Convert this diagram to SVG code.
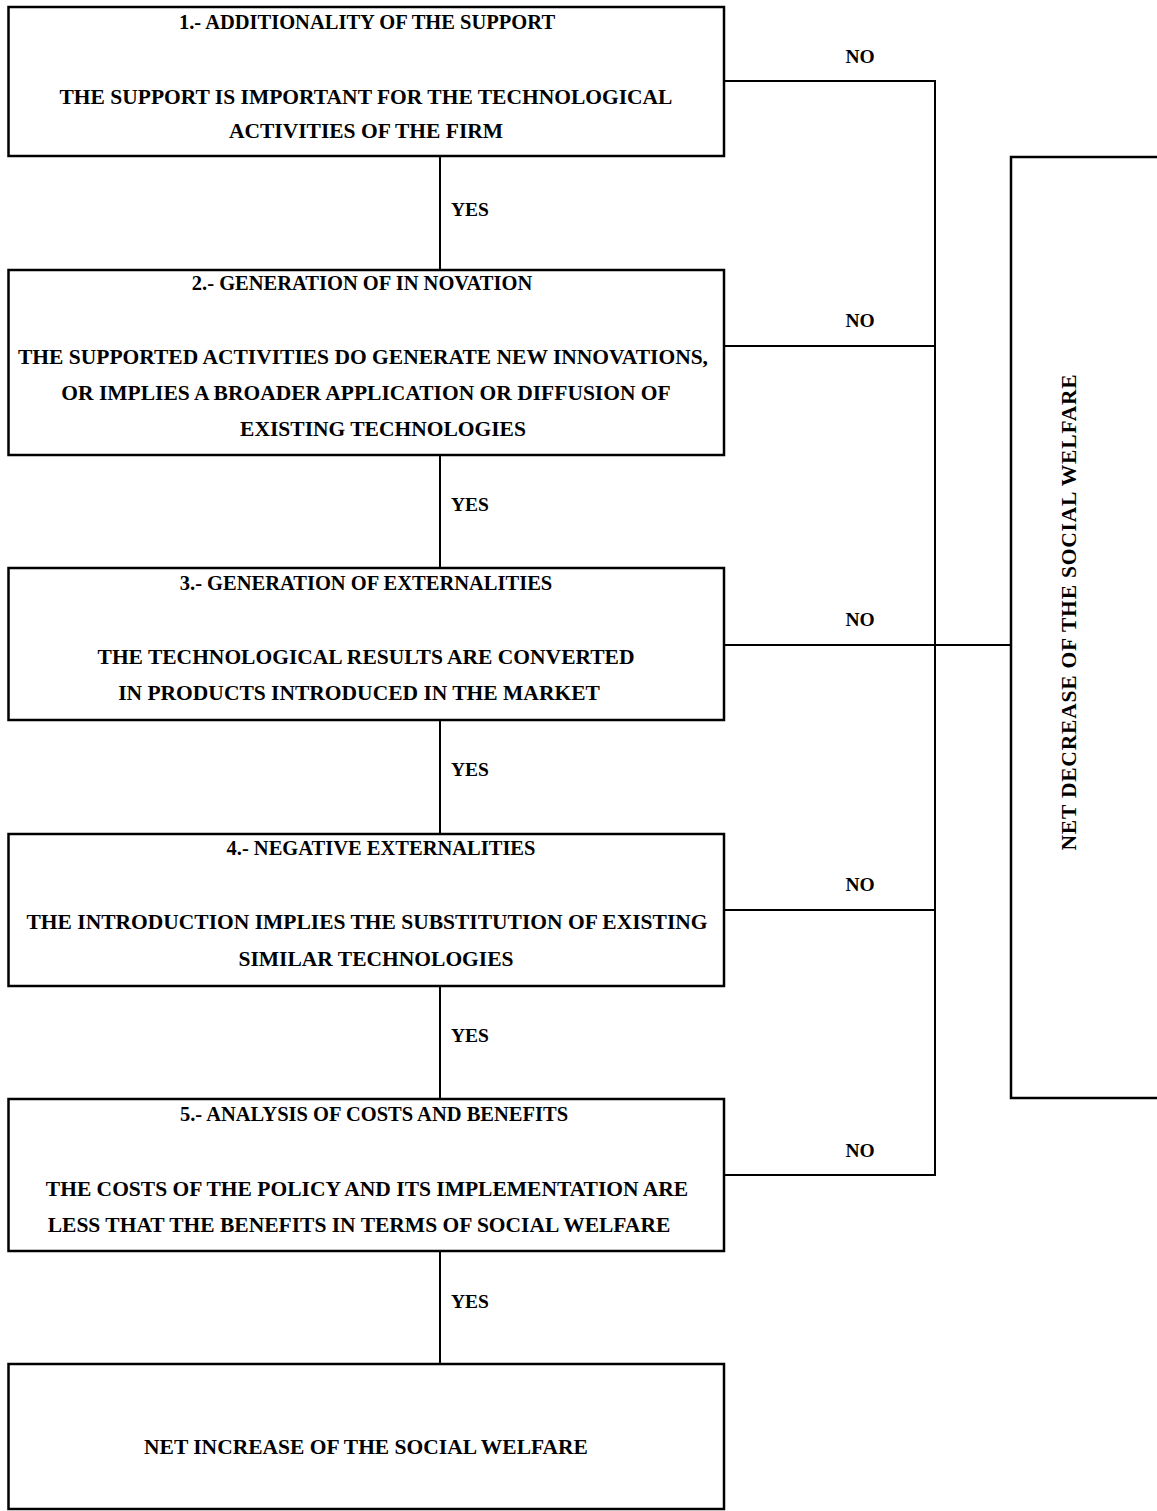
<svg xmlns="http://www.w3.org/2000/svg" width="1157" height="1511" viewBox="0 0 1157 1511">
<style>
.box{fill:#fff;stroke:#000;stroke-width:2.5}
.ln{fill:none;stroke:#000;stroke-width:2}
text{font-family:"Liberation Serif","Times New Roman",serif;font-weight:bold;fill:#000}
.t{font-size:20.5px;text-anchor:middle}
.b{font-size:21.5px;text-anchor:middle}
.lb{font-size:19.5px;text-anchor:middle}
.v{font-size:21.5px;text-anchor:middle;letter-spacing:0.8px}
</style>
<rect width="1157" height="1511" fill="#fff"/>
<g id="connectors">
<line class="ln" x1="440" y1="156" x2="440" y2="270"/>
<line class="ln" x1="440" y1="455" x2="440" y2="568"/>
<line class="ln" x1="440" y1="720" x2="440" y2="834"/>
<line class="ln" x1="440" y1="986" x2="440" y2="1099"/>
<line class="ln" x1="440" y1="1251" x2="440" y2="1364"/>
<polyline class="ln" points="724,81 935,81 935,1175 724,1175"/>
<line class="ln" x1="724" y1="346" x2="935" y2="346"/>
<line class="ln" x1="724" y1="645" x2="1011" y2="645"/>
<line class="ln" x1="724" y1="910" x2="935" y2="910"/>
<text class="lb" x="470" y="216">YES</text>
<text class="lb" x="470" y="511">YES</text>
<text class="lb" x="470" y="776">YES</text>
<text class="lb" x="470" y="1042">YES</text>
<text class="lb" x="470" y="1308">YES</text>
<text class="lb" x="860" y="63">NO</text>
<text class="lb" x="860" y="327">NO</text>
<text class="lb" x="860" y="626">NO</text>
<text class="lb" x="860" y="891">NO</text>
<text class="lb" x="860" y="1157">NO</text>
</g>
<g id="node1">
<rect class="box" x="8.5" y="7" width="715.5" height="149"/>
<text class="t" x="367" y="29">1.- ADDITIONALITY OF THE SUPPORT</text>
<text class="b" x="366" y="104">THE SUPPORT IS IMPORTANT FOR THE TECHNOLOGICAL</text>
<text class="b" x="366" y="138">ACTIVITIES OF THE FIRM</text>
</g>
<g id="node2">
<rect class="box" x="8.5" y="270" width="715.5" height="185"/>
<text class="t" x="362" y="290">2.- GENERATION OF IN NOVATION</text>
<text class="b" x="363" y="364">THE SUPPORTED ACTIVITIES DO GENERATE NEW INNOVATIONS,</text>
<text class="b" x="366" y="400">OR IMPLIES A BROADER APPLICATION OR DIFFUSION OF</text>
<text class="b" x="383" y="436">EXISTING TECHNOLOGIES</text>
</g>
<g id="node3">
<rect class="box" x="8.5" y="568" width="715.5" height="152"/>
<text class="t" x="366" y="590">3.- GENERATION OF EXTERNALITIES</text>
<text class="b" x="366" y="664">THE TECHNOLOGICAL RESULTS ARE CONVERTED</text>
<text class="b" x="359" y="700">IN PRODUCTS INTRODUCED IN THE MARKET</text>
</g>
<g id="node4">
<rect class="box" x="8.5" y="834" width="715.5" height="152"/>
<text class="t" x="381" y="855">4.- NEGATIVE EXTERNALITIES</text>
<text class="b" x="367" y="929">THE INTRODUCTION IMPLIES THE SUBSTITUTION OF EXISTING</text>
<text class="b" x="376" y="966">SIMILAR TECHNOLOGIES</text>
</g>
<g id="node5">
<rect class="box" x="8.5" y="1099" width="715.5" height="152"/>
<text class="t" x="374" y="1121">5.- ANALYSIS OF COSTS AND BENEFITS</text>
<text class="b" x="367" y="1196">THE COSTS OF THE POLICY AND ITS IMPLEMENTATION ARE</text>
<text class="b" x="359" y="1232">LESS THAT THE BENEFITS IN TERMS OF SOCIAL WELFARE</text>
</g>
<g id="node6">
<rect class="box" x="8.5" y="1364" width="715.5" height="145"/>
<text class="b" x="366" y="1454">NET INCREASE OF THE  SOCIAL WELFARE</text>
</g>
<g id="node7">
<rect class="box" x="1011" y="157" width="160" height="941"/>
<text class="v" transform="translate(1076,612) rotate(-90)" x="0" y="0">NET DECREASE OF THE SOCIAL WELFARE</text>
</g>
</svg>
